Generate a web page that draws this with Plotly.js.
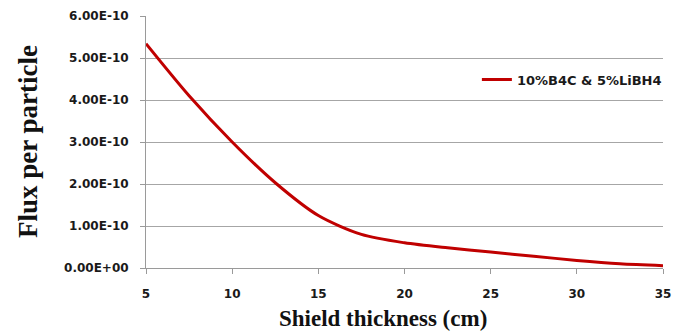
<!DOCTYPE html>
<html>
<head>
<meta charset="utf-8">
<script src="https://cdn.plot.ly/plotly-3.0.1.min.js"></script>
<style>html,body{margin:0;padding:0;background:#fff;}#chart{width:676px;height:331px;}</style>
</head>
<body>
<div id="chart"></div>
<script>
const thickness = [5, 7.5, 10, 12.5, 15, 17.5, 20, 22.5, 25, 27.5, 30, 32.5, 35];
const flux = [5.34e-10, 4.10e-10, 3.00e-10, 2.03e-10, 1.25e-10, 0.80e-10, 0.60e-10, 0.48e-10, 0.38e-10, 0.28e-10, 0.18e-10, 0.10e-10, 0.055e-10];
const seriesName = "10%B4C & 5%LiBH4";
const xTicks = [5, 10, 15, 20, 25, 30, 35];
const yTicks = [0, 1e-10, 2e-10, 3e-10, 4e-10, 5e-10, 6e-10];
const yTickText = ["0.00E+00", "1.00E-10", "2.00E-10", "3.00E-10", "4.00E-10", "5.00E-10", "6.00E-10"];
const xTitle = "Shield thickness (cm)";
const yTitle = "Flux per particle";

const tickFont = {family: "DejaVu Sans", size: 12, color: "#1a1a1a", weight: "bold"};

Plotly.newPlot("chart", [{
  x: thickness, y: flux, type: "scatter", mode: "lines", name: seriesName,
  line: {color: "#c00000", width: 3, shape: "spline", smoothing: 0.8}
}], {
  width: 676, height: 331,
  margin: {l: 146, r: 9, t: 16, b: 63},
  paper_bgcolor: "#fff", plot_bgcolor: "#fff",
  showlegend: true,
  legend: {x: 0.64, y: 0.748, xanchor: "left", yanchor: "middle", bgcolor: "rgba(0,0,0,0)",
    font: {family: "DejaVu Sans", size: 13, color: "#1a1a1a", weight: "bold"}},
  xaxis: {range: [5, 35], tickvals: xTicks, ticktext: xTicks.map(String), showgrid: false,
    showline: true, linecolor: "#9a9a9a", linewidth: 1, ticks: "outside", ticklen: 5, tickcolor: "#9a9a9a",
    tickfont: tickFont, ticklabelstandoff: 10, zeroline: false, fixedrange: true},
  yaxis: {range: [0, 6e-10], tickvals: yTicks, ticktext: yTickText, showgrid: true, gridcolor: "#a6a6a6", gridwidth: 1,
    showline: true, linecolor: "#9a9a9a", linewidth: 1, ticks: "outside", ticklen: 5, tickcolor: "#9a9a9a",
    tickfont: tickFont, ticklabelstandoff: 9, zeroline: false, fixedrange: true},
  annotations: [
    {text: xTitle, xref: "paper", yref: "paper", x: 0.459, y: 0, xanchor: "center", yanchor: "middle", yshift: -50,
     showarrow: false, font: {family: "Liberation Serif", size: 23, color: "#111", weight: "bold"}},
    {text: yTitle, xref: "paper", yref: "paper", x: 0, y: 0.5, xanchor: "center", yanchor: "middle", xshift: -118,
     textangle: -90, showarrow: false, font: {family: "Liberation Serif", size: 27, color: "#111", weight: "bold"}}
  ]
}, {displayModeBar: false, staticPlot: true});
</script>
</body>
</html>
